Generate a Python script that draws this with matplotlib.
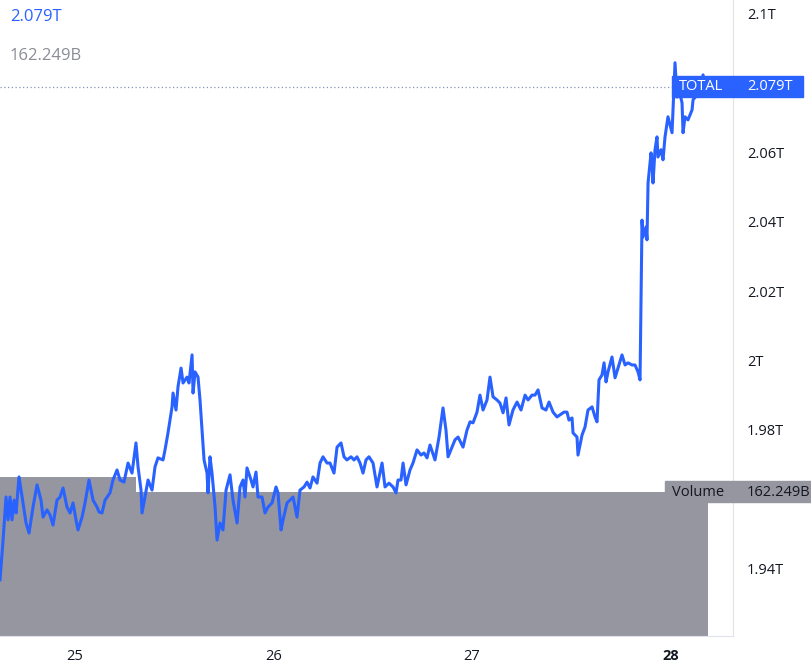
import numpy as np
import matplotlib.pyplot as plt
from matplotlib.patches import Rectangle
from matplotlib.transforms import blended_transform_factory

plt.rcParams['font.family'] = ['Open Sans', 'DejaVu Sans']

# hours since the 25th 00:00, total market cap in trillions
hours = [
    -9.07, -8.70, -8.34, -8.10, -7.86, -7.62, -7.37, -7.13, -6.77, -6.29,
    -5.92, -5.56, -5.08, -4.59, -4.11, -3.87, -3.39, -3.02, -2.66, -2.18,
    -1.81, -1.45, -0.97, -0.60, -0.24, 0.12, 0.36, 0.85, 1.21, 1.69,
    2.18, 2.66, 2.90, 3.26, 3.63, 4.23, 4.59, 5.08, 5.44, 5.92,
    6.41, 6.89, 7.37, 7.62, 7.98, 8.10, 8.46, 8.83, 9.31, 9.67,
    10.03, 10.64, 10.88, 11.24, 11.73, 11.85, 12.21, 12.45, 12.82, 13.06,
    13.54, 13.78, 14.15, 14.27, 14.51, 14.87, 15.11, 15.35, 15.60, 15.96,
    16.08, 16.32, 16.56, 16.93, 17.17, 17.53, 17.89, 18.26, 18.74, 19.10,
    19.59, 19.95, 20.31, 20.55, 20.79, 21.28, 21.52, 21.88, 22.12, 22.61,
    22.97, 23.33, 23.82, 24.30, 24.54, 24.91, 25.15, 25.63, 25.99, 26.36,
    26.84, 27.20, 27.69, 28.05, 28.41, 28.77, 29.26, 29.62, 29.98, 30.47,
    30.83, 31.31, 31.68, 32.16, 32.52, 32.88, 33.37, 33.73, 34.09, 34.46,
    34.82, 35.18, 35.54, 36.03, 36.51, 37.12, 37.48, 37.96, 38.45, 38.81,
    39.05, 39.41, 39.66, 40.02, 40.50, 40.86, 41.35, 41.83, 42.19, 42.56,
    42.92, 43.52, 44.01, 44.49, 44.85, 45.10, 45.58, 45.94, 46.31, 46.91,
    47.39, 47.76, 48.12, 48.60, 48.96, 49.33, 49.81, 50.17, 50.54, 51.02,
    51.38, 51.75, 52.11, 52.47, 52.95, 53.44, 53.92, 54.41, 54.77, 55.25,
    55.61, 55.98, 56.46, 56.94, 57.31, 57.79, 58.27, 58.64, 59.12, 59.48,
    59.72, 60.09, 60.21, 60.69, 60.81, 61.30, 61.66, 62.02, 62.51, 62.87,
    63.11, 63.35, 63.71, 63.96, 64.20, 64.44, 64.92, 65.29, 65.65, 66.13,
    66.50, 66.86, 67.34, 67.70, 68.07, 68.31, 68.55, 68.67, 69.03, 69.15,
    69.28, 69.64, 69.76, 69.88, 70.12, 70.36, 70.48, 70.85, 71.09, 71.33,
    71.69, 72.18, 72.30, 72.54, 72.78, 73.02, 73.39, 73.51, 73.75, 74.11,
    74.60, 74.72, 75.20, 75.56, 75.93, 76.20,
]
total_t = [
    1.9367, 1.9482, 1.9606, 1.9540, 1.9606, 1.9540, 1.9597, 1.9560, 1.9664, 1.9589,
    1.9531, 1.9502, 1.9577, 1.9641, 1.9597, 1.9548, 1.9569, 1.9554, 1.9525, 1.9597,
    1.9606, 1.9632, 1.9577, 1.9560, 1.9589, 1.9540, 1.9511, 1.9548, 1.9589, 1.9655,
    1.9597, 1.9577, 1.9563, 1.9560, 1.9597, 1.9618, 1.9655, 1.9684, 1.9655, 1.9649,
    1.9704, 1.9675, 1.9762, 1.9693, 1.9626, 1.9560, 1.9606, 1.9655, 1.9626, 1.9693,
    1.9719, 1.9713, 1.9742, 1.9791, 1.9866, 1.9906, 1.9857, 1.9924, 1.9978, 1.9935,
    1.9952, 1.9935, 2.0016, 1.9906, 1.9967, 1.9952, 1.9886, 1.9799, 1.9713, 1.9675,
    1.9618, 1.9722, 1.9675, 1.9577, 1.9482, 1.9531, 1.9511, 1.9626, 1.9670, 1.9597,
    1.9531, 1.9635, 1.9655, 1.9606, 1.9690, 1.9655, 1.9635, 1.9678, 1.9606, 1.9606,
    1.9560, 1.9577, 1.9589, 1.9635, 1.9618, 1.9511, 1.9540, 1.9589, 1.9597, 1.9606,
    1.9548, 1.9626, 1.9635, 1.9649, 1.9632, 1.9664, 1.9646, 1.9704, 1.9722, 1.9704,
    1.9704, 1.9675, 1.9750, 1.9762, 1.9722, 1.9713, 1.9722, 1.9713, 1.9722, 1.9704,
    1.9675, 1.9713, 1.9722, 1.9704, 1.9635, 1.9704, 1.9635, 1.9646, 1.9635, 1.9618,
    1.9655, 1.9655, 1.9704, 1.9641, 1.9684, 1.9704, 1.9742, 1.9727, 1.9733, 1.9719,
    1.9756, 1.9713, 1.9779, 1.9863, 1.9799, 1.9722, 1.9750, 1.9771, 1.9779, 1.9750,
    1.9799, 1.9823, 1.9820, 1.9851, 1.9900, 1.9857, 1.9886, 1.9952, 1.9895, 1.9886,
    1.9877, 1.9849, 1.9892, 1.9814, 1.9857, 1.9880, 1.9857, 1.9900, 1.9886, 1.9900,
    1.9900, 1.9915, 1.9863, 1.9857, 1.9880, 1.9851, 1.9837, 1.9843, 1.9851, 1.9851,
    1.9828, 1.9834, 1.9791, 1.9779, 1.9727, 1.9785, 1.9808, 1.9857, 1.9866, 1.9837,
    1.9823, 1.9944, 1.9958, 1.9993, 1.9938, 1.9967, 2.0010, 1.9950, 1.9978, 2.0016,
    1.9987, 1.9993, 1.9987, 1.9987, 1.9967, 1.9944, 2.0405, 2.0356, 2.0385, 2.0348,
    2.0512, 2.0599, 2.0570, 2.0512, 2.0608, 2.0645, 2.0587, 2.0608, 2.0579, 2.0645,
    2.0703, 2.0657, 2.0723, 2.0859, 2.0760, 2.0781, 2.0743, 2.0657, 2.0703, 2.0694,
    2.0723, 2.0752, 2.0766, 2.0789, 2.0824, 2.0790,
]

# volume bars (billions)
vol_start = [-12.0, 7.4]
vol_end = [7.4, 76.5]
vol_b = [179.3, 162.249]

day_ticks = [0, 24, 48, 72]
day_labels = ['25', '26', '27', '28']
# 1.96T and 2.08T sit under the label boxes, so they are left out
price_ticks = [1.94, 1.98, 2.0, 2.02, 2.04, 2.06, 2.1]
price_labels = ['1.94T', '1.98T', '2T', '2.02T', '2.04T', '2.06T', '2.1T']

blue = '#2962ff'
vol_gray = '#95969f'
text_dark = '#131722'
border = '#e0e3eb'

fig = plt.figure(figsize=(8.12, 6.67), dpi=100)
ax = fig.add_axes([0, 31 / 667, 733 / 812, 636 / 667])
ax_vol = ax.twinx()

ax_vol.bar(vol_start, vol_b, width=np.subtract(vol_end, vol_start), align='edge',
           color=vol_gray, linewidth=0)
ax_vol.set_ylim(0, 716.6)
ax_vol.set_axis_off()

ax.set_zorder(ax_vol.get_zorder() + 1)
ax.patch.set_visible(False)

ax.plot(hours, total_t, color=blue, lw=2.2, solid_joinstyle='round')
last = total_t[-1]
ax.axhline(last, color='#8a94b8', lw=0.9, ls=(0, (1, 2)))

ax.set_xlim(-9.07, 79.55)
ax.set_ylim(1.9205, 2.1040)

for s in ['top', 'left']:
    ax.spines[s].set_visible(False)
ax.spines['right'].set_color(border)
ax.spines['bottom'].set_color(border)

ax.yaxis.tick_right()
ax.set_yticks(price_ticks, price_labels)
ax.set_xticks(day_ticks, day_labels)
ax.tick_params(axis='y', length=0, pad=10, labelsize=10.5, labelcolor=text_dark)
ax.tick_params(axis='x', length=0, pad=9, labelsize=10.5, labelcolor=text_dark)
ax.get_xticklabels()[-1].set_fontweight('bold')

# price label on the right scale
tr = blended_transform_factory(ax.transAxes, ax.transData)
box_h = 0.0061
ax.add_patch(Rectangle((0.9168, last - box_h / 2), 0.1787, box_h, transform=tr,
                       color=blue, clip_on=False, zorder=10))
ax.text(0.926, last, 'TOTAL', transform=tr, color='white', va='center', ha='left',
        fontsize=10.5, zorder=11, clip_on=False)
ax.text(1.019, last, f'{last:.3f}T', transform=tr, color='white', va='center', ha='left',
        fontsize=10.5, zorder=11, clip_on=False)

# volume label
trv = blended_transform_factory(ax.transAxes, ax_vol.transData)
ax.add_patch(Rectangle((0.9072, vol_b[-1] - 11.8), 0.21, 23.7, transform=trv,
                       color=vol_gray, clip_on=False, zorder=10))
ax.text(0.917, vol_b[-1], 'Volume', transform=trv, color=text_dark, va='center',
        ha='left', fontsize=10.5, zorder=11, clip_on=False)
ax.text(1.019, vol_b[-1], f'{vol_b[-1]:.3f}B', transform=trv, color=text_dark,
        va='center', ha='left', fontsize=10.5, zorder=11, clip_on=False)

# legend values top-left
fig.text(10 / 812, 1 - 17 / 667, f'{last:.3f}T', color=blue, fontsize=12, va='center')
fig.text(10 / 812, 1 - 56 / 667, f'{vol_b[-1]:.3f}B', color='#8a8d96', fontsize=12,
         va='center')

fig.savefig('out.png', dpi=100)
